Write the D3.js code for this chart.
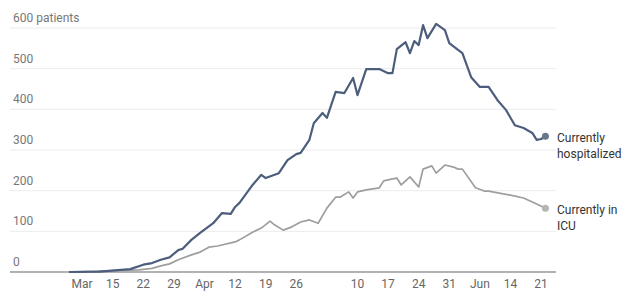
<!DOCTYPE html>
<html>
<head>
<meta charset="utf-8">
<script src="https://cdn.jsdelivr.net/npm/d3@7"></script>
<style>
  body { margin: 0; background: #fff; }
  text { font-family: Roboto, "Open Sans", sans-serif; }
</style>
</head>
<body>
<div id="chart"></div>
<script>
// values (patients)
var hospDates = ["2020-03-05","2020-03-12","2020-03-19","2020-03-22","2020-03-24","2020-03-26","2020-03-28","2020-03-30","2020-03-31",
  "2020-04-02","2020-04-04","2020-04-07","2020-04-09","2020-04-11","2020-04-12","2020-04-13","2020-04-16","2020-04-18",
  "2020-04-19","2020-04-22","2020-04-24","2020-04-26","2020-04-27","2020-04-29","2020-04-30","2020-05-02","2020-05-03",
  "2020-05-05","2020-05-07","2020-05-09","2020-05-10","2020-05-12","2020-05-15","2020-05-17","2020-05-18","2020-05-19",
  "2020-05-21","2020-05-22","2020-05-23","2020-05-24","2020-05-25","2020-05-26","2020-05-28","2020-05-30","2020-05-31",
  "2020-06-02","2020-06-03","2020-06-05","2020-06-07","2020-06-09","2020-06-11","2020-06-13","2020-06-15","2020-06-17",
  "2020-06-19","2020-06-20","2020-06-21","2020-06-22"];
var hospValues = [0,1,7,18,22,30,36,54,57,
  79,96,120,145,143,160,170,214,239,
  231,243,275,290,293,325,366,391,379,
  443,440,477,435,499,499,489,489,548,
  565,538,568,558,607,575,610,595,563,
  546,538,479,455,455,423,398,361,354,
  342,325,327,334];

var icuDates = ["2020-03-05","2020-03-21","2020-03-24","2020-03-26","2020-03-28","2020-03-30","2020-04-02","2020-04-04",
  "2020-04-06","2020-04-08","2020-04-12","2020-04-13","2020-04-16","2020-04-18","2020-04-20","2020-04-21","2020-04-23",
  "2020-04-25","2020-04-27","2020-04-29","2020-05-01","2020-05-03","2020-05-05","2020-05-06","2020-05-08","2020-05-09",
  "2020-05-10","2020-05-12","2020-05-15","2020-05-16","2020-05-18","2020-05-19","2020-05-20","2020-05-22","2020-05-24",
  "2020-05-25","2020-05-27","2020-05-28","2020-05-30","2020-06-01","2020-06-02","2020-06-03","2020-06-06","2020-06-08",
  "2020-06-09","2020-06-14","2020-06-17","2020-06-20","2020-06-22"];
var icuValues = [0,5,9,15,20,30,42,49,
  61,64,74,79,98,108,125,116,103,
  111,123,128,120,157,184,184,197,182,
  197,202,207,224,229,231,214,234,209,
  253,261,243,263,258,253,253,207,199,
  199,189,182,167,157];

var tickDates = ["2020-03-08","2020-03-15","2020-03-22","2020-03-29","2020-04-05","2020-04-12","2020-04-19","2020-04-26",
  "2020-05-10","2020-05-17","2020-05-24","2020-05-31","2020-06-07","2020-06-14","2020-06-21"];
var tickLabels = ["Mar","15","22","29","Apr","12","19","26","10","17","24","31","Jun","14","21"];
var yTicks = [0,100,200,300,400,500,600];

var W = 630, H = 292;
var parse = d3.timeParse("%Y-%m-%d");

var svg = d3.select("#chart").append("svg").attr("width", W).attr("height", H);

var x = d3.scaleTime()
  .domain([new Date(2020,1,20,12), new Date(2020,5,24,10)])
  .range([10, 556]);
var y = d3.scaleLinear().domain([0, 600]).range([272, 28]);

// gridlines
svg.selectAll(".grid").data(yTicks.slice(1)).enter().append("line")
  .attr("x1", x.range()[0]).attr("x2", x.range()[1])
  .attr("y1", function(d){ return y(d); }).attr("y2", function(d){ return y(d); })
  .attr("stroke", "#ececec").attr("stroke-width", 1);

// y labels
svg.selectAll(".ylab").data(yTicks).enter().append("text")
  .attr("x", 13)
  .attr("y", function(d){ return y(d) - 6; })
  .attr("font-size", 12)
  .attr("fill", "#777")
  .text(function(d){ return d === 600 ? "600 patients" : d; });

// baseline
svg.append("line")
  .attr("x1", x.range()[0]).attr("x2", x.range()[1])
  .attr("y1", y(0)).attr("y2", y(0))
  .attr("stroke", "#999").attr("stroke-width", 1.6);

// x axis labels
svg.selectAll(".xlab").data(tickDates).enter().append("text")
  .attr("x", function(d){ return x(parse(d)); })
  .attr("y", 288)
  .attr("text-anchor", "middle")
  .attr("font-size", 12)
  .attr("fill", "#666")
  .text(function(d, i){ return tickLabels[i]; });

var line = d3.line()
  .x(function(d){ return x(d.date); })
  .y(function(d){ return y(d.value); });

var icu = icuDates.map(function(d, i){ return {date: parse(d), value: icuValues[i]}; });
var hosp = hospDates.map(function(d, i){ return {date: parse(d), value: hospValues[i]}; });

svg.append("path").datum(icu)
  .attr("d", line).attr("fill", "none")
  .attr("stroke", "#9e9e9e").attr("stroke-width", 1.7).attr("stroke-linejoin", "round");

svg.append("path").datum(hosp)
  .attr("d", line).attr("fill", "none")
  .attr("stroke", "#4d5d7c").attr("stroke-width", 2.2).attr("stroke-linejoin", "round");

// end dots + labels
var ends = [
  {pt: hosp[hosp.length-1], fill: "#6a7689", lines: ["Currently", "hospitalized"]},
  {pt: icu[icu.length-1], fill: "#b5b5b5", lines: ["Currently in", "ICU"]}
];
ends.forEach(function(e){
  svg.append("circle")
    .attr("cx", x(e.pt.date)).attr("cy", y(e.pt.value)).attr("r", 3.5)
    .attr("fill", e.fill);
  var t = svg.append("text")
    .attr("x", 557).attr("y", y(e.pt.value) + 6)
    .attr("font-size", 12).attr("fill", "#333");
  e.lines.forEach(function(s, i){
    t.append("tspan").attr("x", 557).attr("dy", i === 0 ? 0 : 15.5).text(s);
  });
});
</script>
</body>
</html>
